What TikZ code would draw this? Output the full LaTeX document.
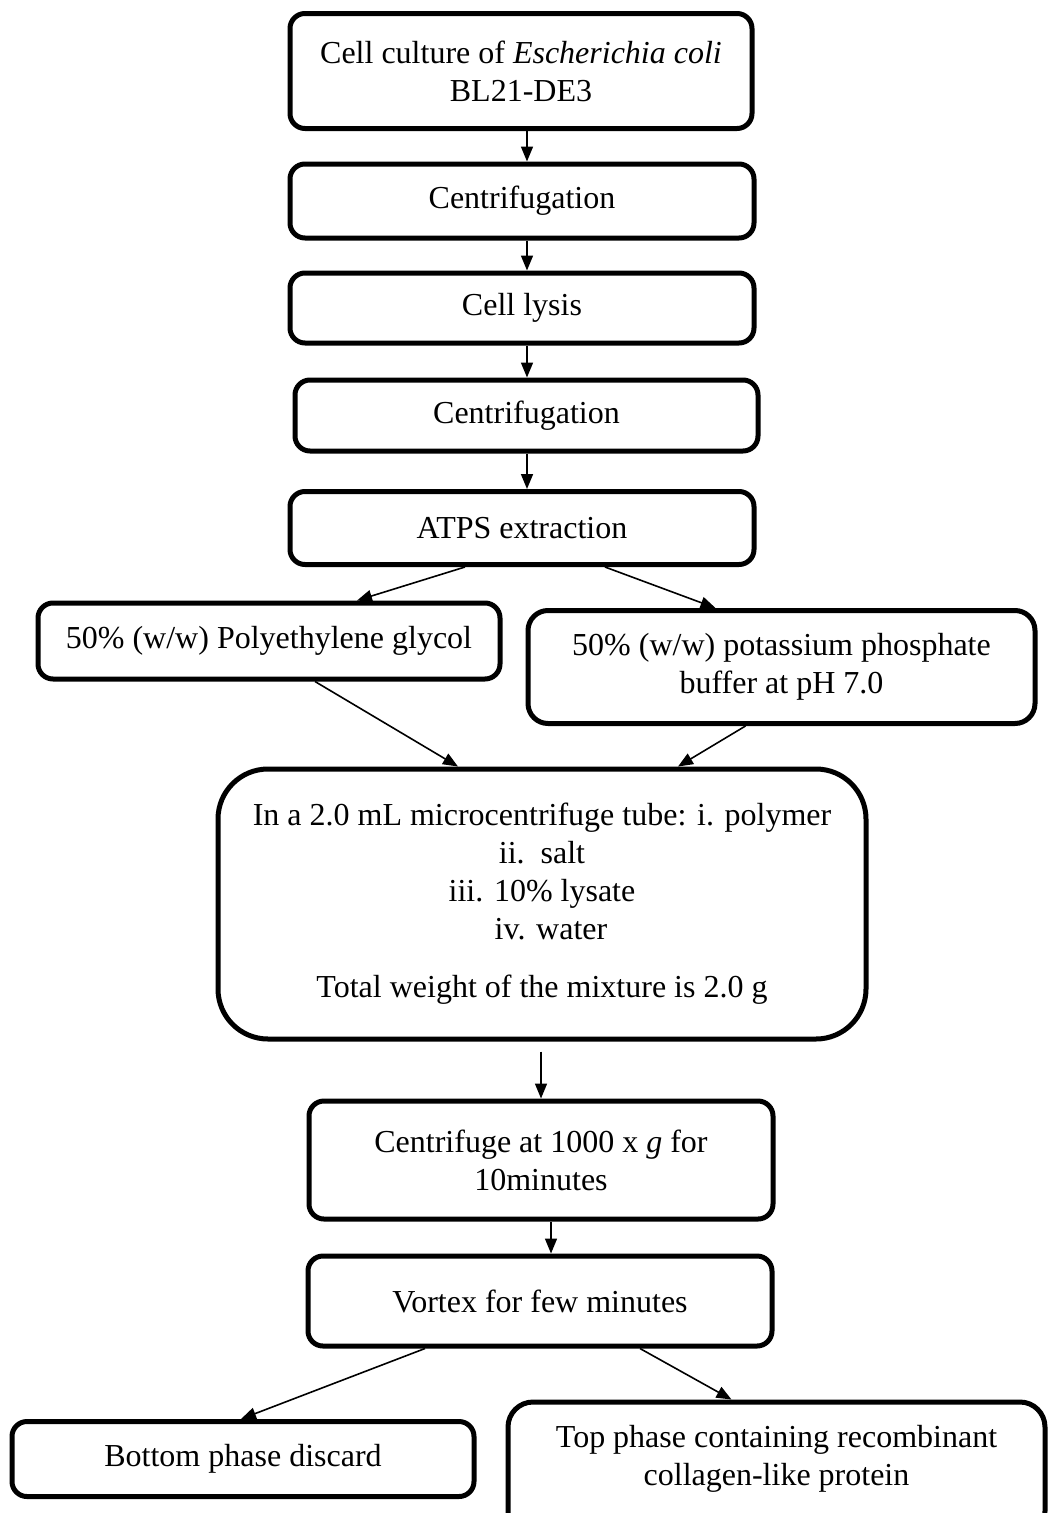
\documentclass[tikz,border=0pt]{standalone}
\usepackage{fontspec}
\setmainfont{Liberation Serif}
\usetikzlibrary{arrows.meta,calc}

\tikzset{
  stepbox/.style={draw=black, line width=5pt, rounded corners=15pt, fill=white,
    align=center, inner sep=0pt, font=\fontsize{32}{38}\selectfont},
  arr/.style={line width=1.6pt, -{Triangle[length=15pt,width=12pt]}},
}

\begin{document}
\begin{tikzpicture}[x=1pt,y=-1pt]
\useasboundingbox (0,0) rectangle (1048,1513);

% process boxes
\node[stepbox, minimum width=462pt, minimum height=115pt] (b1) at (521,71)
  {Cell culture of \textit{Escherichia coli}\\BL21-DE3};
\node[stepbox, minimum width=464pt, minimum height=74pt] (b2) at (522,201) {Centrifugation};
\node[stepbox, minimum width=464pt, minimum height=70pt] (b3) at (522,308) {Cell lysis};
\node[stepbox, minimum width=463pt, minimum height=71pt] (b4) at (526.5,415.5) {Centrifugation};
\node[stepbox, minimum width=464pt, minimum height=73pt] (b5) at (522,528) {ATPS extraction};
\node[stepbox, minimum width=462pt, minimum height=76pt] (peg) at (269,641)
  {50\% (w/w) Polyethylene glycol};
\node[stepbox, minimum width=507pt, minimum height=113pt, rounded corners=20pt] (pot) at (781.5,667)
  {50\% (w/w) potassium phosphate\\buffer at pH 7.0};
\node[stepbox, minimum width=648pt, minimum height=270pt, rounded corners=50pt] (tube) at (542,904)
  {In a 2.0 mL microcentrifuge tube: i. polymer\\
   ii.\ \ salt\\
   iii. 10\% lysate\\
   \hspace*{18pt}iv. water\\[20pt]
   Total weight of the mixture is 2.0 g};
\node[stepbox, minimum width=464pt, minimum height=118pt] (cent) at (541,1160)
  {Centrifuge at 1000 x \textit{g} for\\10minutes};
\node[stepbox, minimum width=464pt, minimum height=90pt] (vort) at (540,1301) {Vortex for few minutes};
\node[stepbox, minimum width=462pt, minimum height=75pt] (bot) at (243,1459) {Bottom phase discard};
\node[stepbox, minimum width=537pt, minimum height=134pt, rounded corners=25pt] (top) at (776.5,1469)
  {Top phase containing recombinant\\collagen-like protein\\[-22pt]\strut};

% connectors
\draw[arr] ($(b1.south)+(6,0)$) -- ($(b2.north)+(5,0)$);
\draw[arr] ($(b2.south)+(5,0)$) -- ($(b3.north)+(5,0)$);
\draw[arr] ($(b3.south)+(5,0)$) -- ($(b4.north)+(0.5,0)$);
\draw[arr] ($(b4.south)+(0.5,0)$) -- ($(b5.north)+(5,0)$);
\draw[arr] ($(b5.south)+(-57,0)$) -- ($(peg.north)+(88,0)$);
\draw[arr] ($(b5.south)+(83,0)$) -- ($(pot.north)+(-66,0)$);
\draw[arr] ($(peg.south)+(46,0)$) -- ($(tube.north)+(-84,0)$);
\draw[arr] ($(pot.south)+(-36,0)$) -- ($(tube.north)+(136,0)$);
\draw[arr] ($(tube.south -| cent.north)+(0,10)$) -- (cent.north);
\draw[arr] ($(cent.south)+(10,0)$) -- ($(vort.north)+(11,0)$);
\draw[arr] ($(vort.south)+(-115,0)$) -- ($(bot.north)+(-2,0)$);
\draw[arr] ($(vort.south)+(100,0)$) -- ($(top.north)+(-45,0)$);
\end{tikzpicture}
\end{document}
